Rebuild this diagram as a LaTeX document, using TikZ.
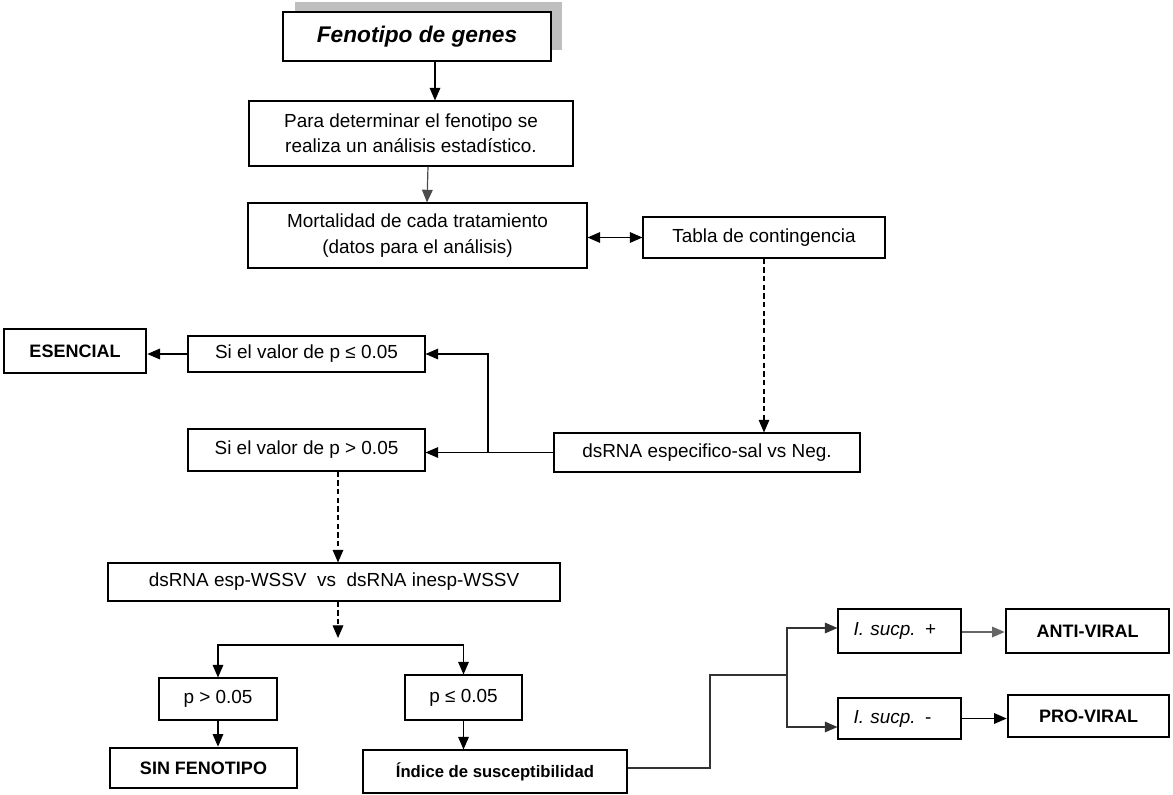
\documentclass[tikz,border=0pt]{standalone}
\usepackage{fontspec}
\setmainfont{Liberation Sans}
\usetikzlibrary{arrows.meta,calc}
\begin{document}
\begin{tikzpicture}[x=0.75pt,y=-0.75pt,
  bx/.style 2 args={draw,line width=0.8pt,inner sep=0pt,align=center,
    minimum width=#1*0.75pt,minimum height=#2*0.75pt,
    font=\fontsize{14.2}{19}\selectfont},
  thickbx/.style={line width=2pt,font=\fontsize{13.5}{16}\selectfont\bfseries},
  arr/.style={line width=0.9pt,-{Triangle[length=9.5pt,width=8pt]}},
  darr/.style={arr,dash pattern=on 4pt off 2.5pt},
  line/.style={line width=0.9pt}]
\useasboundingbox (0,0) rectangle (1173,795);
% title with shadow
\fill[black!25] (295,2) rectangle (562,50);
\node[bx={268}{49},fill=white,line width=1.6pt,font=\fontsize{17}{20}\selectfont\bfseries\itshape] (title) at (417,36.5) {Fenotipo de genes};
\node[bx={324}{65}] (para) at (411,133.5) {Para determinar el fenotipo se\\realiza un análisis estadístico.};
\node[bx={339}{65}] (mort) at (417.5,235.5) {Mortalidad de cada tratamiento\\(datos para el análisis)};
\node[bx={242}{41}] (tabla) at (764,237.5) {Tabla de contingencia};
\node[bx={306}{39}] (dsneg) at (707,452.5) {dsRNA especifico-sal vs Neg.};
\node[bx={237}{36}] (ple) at (306.5,354) {Si el valor de p ≤ 0.05};
\node[bx={237}{42}] (pgt) at (306.5,450) {Si el valor de p > 0.05};
\node[bx={142}{44},thickbx] (esen) at (75,351) {ESENCIAL};
\node[bx={452}{38}] (wssv) at (334,582) {dsRNA esp-WSSV~~vs~~dsRNA inesp-WSSV};
\node[bx={118}{42}] (p1) at (218,699) {p > 0.05};
\node[bx={117}{45}] (p2) at (463.5,697.5) {p ≤ 0.05};
\node[bx={187}{40},thickbx] (sinf) at (203.5,768) {SIN FENOTIPO};
\node[bx={264}{43},font=\fontsize{12.5}{15}\selectfont\bfseries] (indice) at (495,771.5) {Índice de susceptibilidad};
\node[bx={123}{44},text width=92*0.75pt,align=left] (ip) at (899.5,631) {\textit{I. sucp.} +};
\node[bx={123}{41},text width=92*0.75pt,align=left] (im) at (899.5,718.5) {\textit{I. sucp.} -};
\node[bx={163}{44},thickbx] (anti) at (1087.5,631) {ANTI-VIRAL};
\node[bx={161}{42},thickbx] (pro) at (1088.5,716) {PRO-VIRAL};
% connectors
\draw[arr] ($(title.south)+(18,0)$) -- ($(para.north)+(24,0)$);
\draw[arr,black!70] ($(para.south)+(17,0)$) -- ($(mort.north)+(9.5,0)$);
\draw[line width=0.9pt,{Triangle[length=9.5pt,width=8pt]}-{Triangle[length=9.5pt,width=8pt]}] (tabla.west -| mort.east) -- (tabla.west);
\draw[darr] (tabla.south) -- (tabla.south |- dsneg.north);
\draw[arr] (dsneg.west) -- (dsneg.west -| pgt.east);
\coordinate (br) at (488,452.5);
\draw[arr] (br) |- (ple.east);
\draw[arr] (ple.west) -- (ple.west -| esen.east);
\draw[darr] ($(pgt.south)+(31.5,0)$) -- ($(wssv.north)+(4,0)$);
\coordinate (dtip) at (338,638);
\draw[darr] ($(wssv.south)+(4,0)$) -- (dtip);
\coordinate (hl) at (338,645);
\draw[arr] (hl) -| (p1.north);
\draw[arr] (hl) -| (p2.north);
\draw[arr] (p1.south) -- (p1.south |- sinf.north);
\draw[arr] (p2.south) -- (p2.south |- indice.north);
\coordinate (j1) at (710,675);
\coordinate (j2) at (787,675);
\draw[line,black!80] ($(indice.east)+(0,-3.5)$) -| (j1) -- (j2);
\draw[arr,black!80] (j2) |- ($(ip.west)+(0,-3)$);
\draw[arr,black!80] (j2) |- ($(im.west)+(0,8.5)$);
\draw[arr,black!60] ($(ip.east)+(0,1)$) -- ($(anti.west)+(0,1)$);
\draw[arr] (im.east) -- (im.east -| pro.west);
\end{tikzpicture}
\end{document}
